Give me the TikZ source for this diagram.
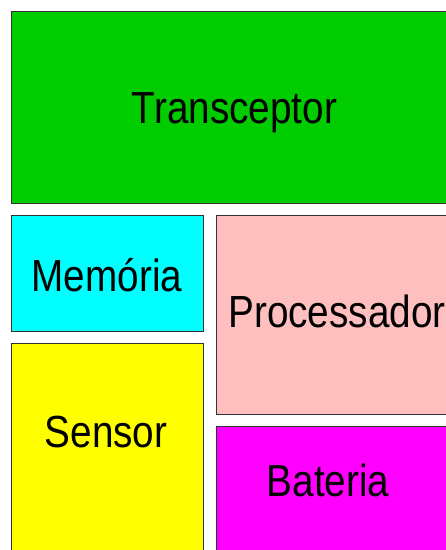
\documentclass[tikz,border=0pt]{standalone}
\usepackage{fontspec}
\setmainfont[FakeStretch=0.86]{Liberation Sans}
\definecolor{transgreen}{RGB}{0,204,0}
\definecolor{memcyan}{RGB}{0,255,255}
\definecolor{sensyellow}{RGB}{255,255,0}
\definecolor{procpink}{RGB}{255,191,191}
\definecolor{batmagenta}{RGB}{255,0,255}

\begin{document}
\begin{tikzpicture}[x=1pt, y=-1pt, blk/.style={draw=black!80, line width=0.8pt}, lbl/.style={anchor=base, inner sep=0pt, font=\fontsize{45}{45}\selectfont}]
\useasboundingbox (0,0) rectangle (446,550);
\clip (0,0) rectangle (446,550);
\draw[blk, fill=transgreen] (11,11) rectangle (458,203);
\draw[blk, fill=memcyan] (11,215) rectangle (203,331);
\draw[blk, fill=sensyellow] (11,343) rectangle (203,560);
\draw[blk, fill=procpink] (216,215) rectangle (458,414);
\draw[blk, fill=batmagenta] (216,426) rectangle (458,560);
\node[lbl] (trans) at (234.5,123) {Transceptor};
\node[lbl] (mem) at (107,291) {Memória};
\node[lbl] (sens) at (106,447) {Sensor};
\node[lbl] (proc) at (337,327) {Processador};
\node[lbl] (bat) at (328,496) {Bateria};
\end{tikzpicture}
\end{document}
